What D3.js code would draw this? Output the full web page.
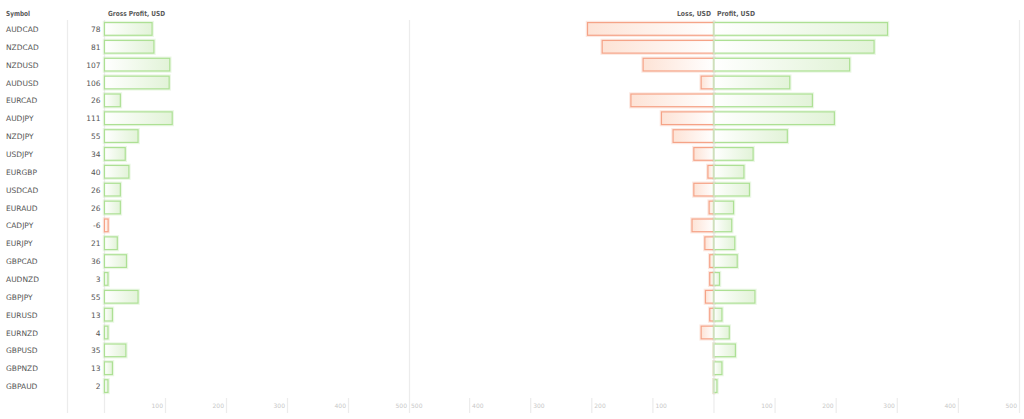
<!DOCTYPE html>
<html><head><meta charset="utf-8">
<script src="https://cdn.jsdelivr.net/npm/d3@7"></script>
<style>
html,body{margin:0;padding:0;background:#fff;}
svg text{font-family:"DejaVu Sans","Liberation Sans",Arial,sans-serif;}
</style></head>
<body>
<svg id="c" width="1024" height="419"></svg>
<script>
const symbols = ["AUDCAD","NZDCAD","NZDUSD","AUDUSD","EURCAD","AUDJPY","NZDJPY","USDJPY","EURGBP","USDCAD","EURAUD","CADJPY","EURJPY","GBPCAD","AUDNZD","GBPJPY","EURUSD","EURNZD","GBPUSD","GBPNZD","GBPAUD"];
const grossProfit = [78,81,107,106,26,111,55,34,40,26,26,-6,21,36,3,55,13,4,35,13,2];
const lossUSD = [207,183,116,21,136,86,67,33,10,33,8,36,15,7,7,14,7,21,0,0,0];
const profitUSD = [284,262,222,124,161,197,120,64,49,58,32,29,34,38,9,67,13,25,35,13,4];
const leftTicks = [100,200,300,400,500];
const rightTicks = [-500,-400,-300,-200,-100,100,200,300,400,500];

const svg = d3.select("#c");
const defs = svg.append("defs");
function grad(id, c1, c2){
  const g = defs.append("linearGradient").attr("id", id).attr("x1","0").attr("x2","1").attr("y1","0").attr("y2","0");
  g.append("stop").attr("offset","0").attr("stop-color", c1);
  g.append("stop").attr("offset","1").attr("stop-color", c2);
}
grad("gGreen", "#ffffff", "#e2f3d8");
grad("gRed", "#fde3d6", "#ffffff");
grad("gRedL", "#ffffff", "#fde3d6");

const green = "#ade094", red = "#f5a387";
const y = d3.scaleBand().domain(symbols).range([20, 395]).paddingInner(0.29).paddingOuter(0.145);
const xL = d3.scaleLinear().domain([0,500]).range([104.5, 409.5]);
const xR = d3.scaleLinear().domain([-500,500]).range([408.5, 1019.5]);

const grid = "#ececec";
[67.5, xL(0), xL(500), xR(0), xR(500)].forEach(x=>{
  svg.append("line").attr("x1",x).attr("x2",x).attr("y1",20).attr("y2",413).attr("stroke",grid).attr("stroke-width",1.2);
});
const tickG = svg.append("g");
leftTicks.filter(t=>t<500).forEach(t=>{
  tickG.append("line").attr("x1",xL(t)).attr("x2",xL(t)).attr("y1",398).attr("y2",413).attr("stroke",grid).attr("stroke-width",1.2);
});
leftTicks.forEach(t=>{
  tickG.append("text").attr("x",xL(t)-2.5).attr("y",408).attr("text-anchor","end")
    .attr("font-size",6).attr("fill","#c8c8c8").text(t);
});
rightTicks.filter(t=>Math.abs(t)<500).forEach(t=>{
  tickG.append("line").attr("x1",xR(t)).attr("x2",xR(t)).attr("y1",398).attr("y2",413).attr("stroke",grid).attr("stroke-width",1.2);
});
rightTicks.forEach(t=>{
  tickG.append("text").attr("x", t<0 ? xR(t)+2.5 : xR(t)-2.5).attr("y",408)
    .attr("text-anchor", t<0 ? "start" : "end")
    .attr("font-size",6).attr("fill","#c8c8c8").text(Math.abs(t));
});

const hdr = (x, txt, anchor, len) => {
  svg.append("text").attr("x",x).attr("y",16).attr("font-size",7).attr("font-weight","bold")
    .attr("fill","#5a5a5a").attr("text-anchor",anchor)
    .attr("textLength",len).attr("lengthAdjust","spacingAndGlyphs").text(txt);
};
hdr(6, "Symbol", "start", 24);
hdr(108, "Gross Profit, USD", "start", 57);
hdr(xR(0)-3, "Loss, USD", "end", 34);
hdr(xR(0)+3, "Profit, USD", "start", 38);

const rows = symbols.map((s,i)=>({s, g:grossProfit[i], l:lossUSD[i], p:profitUSD[i]}));
const bh = y.bandwidth();

svg.selectAll("text.sym").data(rows).join("text").attr("class","sym")
  .attr("x",6).attr("y",d=>y(d.s)+bh/2+3).attr("font-size",7.5).attr("fill","#555").text(d=>d.s);
svg.selectAll("text.val").data(rows).join("text").attr("class","val")
  .attr("x",100.5).attr("y",d=>y(d.s)+bh/2+3).attr("text-anchor","end").attr("font-size",7.5).attr("fill","#555").text(d=>d.g);

function bar(sel, x, w, fill, stroke){
  sel.append("rect").attr("x",x-1).attr("y",-1).attr("width",Math.max(w+2,0)).attr("height",bh+2)
    .attr("fill","none").attr("stroke",stroke).attr("stroke-opacity",0.25).attr("stroke-width",1.5);
  sel.append("rect").attr("x",x).attr("y",0).attr("width",Math.max(w,0)).attr("height",bh)
    .attr("fill",fill).attr("stroke",stroke).attr("stroke-width",1.2);
}

rows.forEach(d=>{
  const g = svg.append("g").attr("transform",`translate(0,${y(d.s)})`);
  const gw = Math.max(xL(Math.abs(d.g)) - xL(0), 3.5);
  if (d.g >= 0) bar(g, xL(0), gw, "url(#gGreen)", green);
  else bar(g, xL(0), gw, "url(#gRedL)", red);
  bar(g, xR(-d.l), xR(0)-xR(-d.l), "url(#gRed)", red);
  bar(g, xR(0), Math.max(xR(d.p)-xR(0), 3), "url(#gGreen)", green);
});
svg.append("line").attr("x1",xR(0)).attr("x2",xR(0)).attr("y1",20).attr("y2",395).attr("stroke","#e6e6e6").attr("stroke-opacity",0.7).attr("stroke-width",1.2);
</script>
</body></html>
